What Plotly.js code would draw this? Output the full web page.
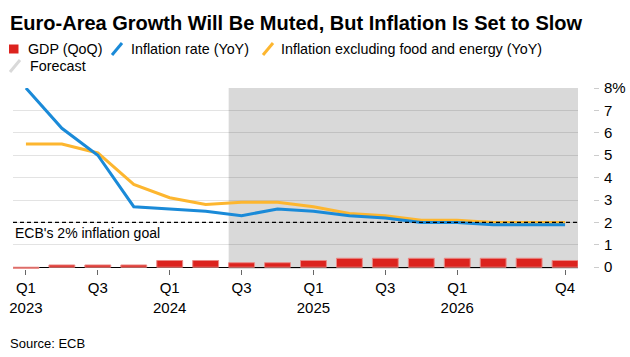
<!DOCTYPE html>
<html>
<head>
<meta charset="utf-8">
<script src="https://cdn.plot.ly/plotly-3.0.1.min.js"></script>
<style>html,body{margin:0;padding:0;background:#fff;}#chart{width:630px;height:357px;}</style>
</head>
<body>
<div id="chart"></div>
<script>
const quarters = ['Q1 2023','Q2 2023','Q3 2023','Q4 2023','Q1 2024','Q2 2024','Q3 2024','Q4 2024',
                  'Q1 2025','Q2 2025','Q3 2025','Q4 2025','Q1 2026','Q2 2026','Q3 2026','Q4 2026'];
const gdp = [-0.05, 0.1, 0.1, 0.1, 0.3, 0.3, 0.2, 0.2, 0.3, 0.4, 0.4, 0.4, 0.4, 0.4, 0.4, 0.3];
const inflation = [8.0, 6.2, 5.0, 2.7, 2.6, 2.5, 2.3, 2.6, 2.5, 2.3, 2.2, 2.0, 2.0, 1.9, 1.9, 1.9];
const core = [5.5, 5.5, 5.1, 3.7, 3.1, 2.8, 2.9, 2.9, 2.7, 2.4, 2.3, 2.1, 2.1, 2.0, 2.0, 2.0];
const xTickVals = ['Q1 2023','Q3 2023','Q1 2024','Q3 2024','Q1 2025','Q3 2025','Q1 2026','Q4 2026'];
const xTickText = ['Q1<br>2023','Q3','Q1<br>2024','Q3','Q1<br>2025','Q3','Q1<br>2026','Q4'];
const yTickVals = [0,1,2,3,4,5,6,7,8];
const yTickText = ['0','1','2','3','4','5','6','7','8%'];
const forecastStart = 'Q3 2024';
const goal = 2;

const W = 630, H = 357, ML = 13, MR = 37, MT = 88, MB = 88;
const PW = W - ML - MR, PH = H - MT - MB;
const px = x => (x - ML) / PW;
const py = y => (H - MB - y) / PH;
const FONT = '"Liberation Sans", Arial, sans-serif';
const fsIdx = quarters.indexOf(forecastStart) - 0.36;

const traces = [
  {type:'bar', x:quarters, y:gdp, width:0.72, name:'GDP (QoQ)',
   marker:{color:'#dc231e', line:{color:'#ea8a86', width:1}}, hoverinfo:'skip'},
  {type:'scatter', mode:'lines', x:quarters, y:core, name:'Inflation excluding food and energy (YoY)',
   line:{color:'#fdb62f', width:3}, hoverinfo:'skip'},
  {type:'scatter', mode:'lines', x:quarters, y:inflation, name:'Inflation rate (YoY)',
   line:{color:'#1a8ad8', width:3}, hoverinfo:'skip'}
];

const legendItems = [
  {kind:'square', color:'#dc231e', x0:9, text:'GDP (QoQ)', tx:25.5, y:49},
  {kind:'slash', color:'#1a8ad8', x0:111, text:'Inflation rate (YoY)', tx:129, y:49},
  {kind:'slash', color:'#fdb62f', x0:262, text:'Inflation excluding food and energy (YoY)', tx:279, y:49},
  {kind:'slash', color:'#d9d9d9', x0:9, text:'Forecast', tx:27.5, y:66}
];

const shapes = [
  {type:'rect', xref:'x', yref:'paper', x0:fsIdx, x1:15.36, y0:0, y1:1,
   fillcolor:'#d9d9d9', line:{width:0}, layer:'below'},
  {type:'line', xref:'paper', yref:'y', x0:0, x1:(578-ML)/PW, y0:goal, y1:goal,
   line:{color:'#000', width:1.3, dash:'4px,3px'}}
];
const annotations = [
  {xref:'paper', yref:'paper', x:px(8), y:py(22.5), xanchor:'left', yanchor:'middle', showarrow:false,
   text:'<b>Euro-Area Growth Will Be Muted, But Inflation Is Set to Slow</b>',
   font:{family:FONT, size:20, color:'#000'}},
  {xref:'paper', yref:'y', x:0, y:goal, xanchor:'left', yanchor:'top', yshift:-1, showarrow:false,
   text:"ECB's 2% inflation goal", font:{family:FONT, size:14, color:'#000'}},
  {xref:'paper', yref:'paper', x:px(8), y:py(343), xanchor:'left', yanchor:'middle', showarrow:false,
   text:'Source: ECB', font:{family:FONT, size:13, color:'#000'}}
];
legendItems.forEach(it => {
  if (it.kind === 'square') {
    shapes.push({type:'rect', xref:'paper', yref:'paper', x0:px(it.x0), x1:px(it.x0+9.5),
      y0:py(it.y+4.5), y1:py(it.y-4.5), fillcolor:it.color, line:{width:0}});
  } else {
    shapes.push({type:'line', xref:'paper', yref:'paper', x0:px(it.x0+1), x1:px(it.x0+11),
      y0:py(it.y+6), y1:py(it.y-6), line:{color:it.color, width:3}});
  }
  annotations.push({xref:'paper', yref:'paper', x:px(it.tx), y:py(it.y), xanchor:'left', yanchor:'middle',
    showarrow:false, text:it.text, font:{family:FONT, size:14.3, color:'#000'}});
});

const layout = {
  width:W, height:H, margin:{l:ML, r:MR, t:MT, b:MB, pad:0},
  paper_bgcolor:'#fff', plot_bgcolor:'rgba(0,0,0,0)',
  showlegend:false, bargap:0,
  font:{family:FONT, size:14, color:'#000'},
  xaxis:{domain:[0,(578-ML)/PW], type:'category', range:[-0.36,15.36], anchor:'y',
    tickmode:'array', tickvals:xTickVals, ticktext:xTickText,
    ticks:'outside', ticklen:5, tickcolor:'#666', tickwidth:1,
    showline:false, showgrid:false, zeroline:false,
    tickfont:{family:FONT, size:15, color:'#000'}},
  yaxis:{range:[-0.08,8], anchor:'free', position:1, side:'right',
    tickmode:'array', tickvals:yTickVals, ticktext:yTickText,
    ticks:'outside', ticklen:5, tickcolor:'#cccccc', tickwidth:1, ticklabelstandoff:2,
    showline:false, showgrid:true, gridcolor:'rgba(0,0,0,0.11)', gridwidth:1,
    zeroline:true, zerolinecolor:'#000', zerolinewidth:1,
    tickfont:{family:FONT, size:15, color:'#000'}},
  shapes:shapes, annotations:annotations
};
Plotly.newPlot('chart', traces, layout, {staticPlot:true, displayModeBar:false});
</script>
</body>
</html>
